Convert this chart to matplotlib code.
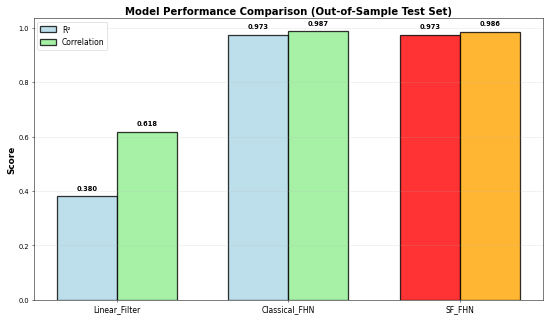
import matplotlib
matplotlib.use("Agg")
import matplotlib.pyplot as plt
import numpy as np

models = ["Linear_Filter", "Classical_FHN", "SF_FHN"]
r2 = [0.380, 0.973, 0.973]
corr = [0.618, 0.987, 0.986]
r2_colors = ["lightblue", "lightblue", "red"]
corr_colors = ["lightgreen", "lightgreen", "orange"]

fig, ax = plt.subplots(figsize=(12, 7), dpi=550/12)
x = np.arange(len(models))
w = 0.35
b1 = ax.bar(x - w/2, r2, w, label="R²", color=r2_colors, alpha=0.8, edgecolor="black", linewidth=2)
b2 = ax.bar(x + w/2, corr, w, label="Correlation", color=corr_colors, alpha=0.8, edgecolor="black", linewidth=2)
for bars, vals in ((b1, r2), (b2, corr)):
    for b, v in zip(bars, vals):
        ax.text(b.get_x() + b.get_width()/2, v + 0.02, f"{v:.3f}", ha="center", va="bottom",
                fontsize=10.5, fontweight="bold")
ax.set_xticks(x)
ax.set_xticklabels(models, fontsize=12)
ax.tick_params(axis="y", labelsize=10.5)
ax.set_ylabel("Score", fontsize=14, fontweight="bold")
ax.set_title("Model Performance Comparison (Out-of-Sample Test Set)", fontsize=16, fontweight="bold")
ax.legend(loc="upper left", fontsize=12)
ax.grid(True, axis="y", alpha=0.3)
ax.set_ylim(0, max(corr) * 1.05)
fig.tight_layout()
fig.savefig("out.png", dpi=550/12)
